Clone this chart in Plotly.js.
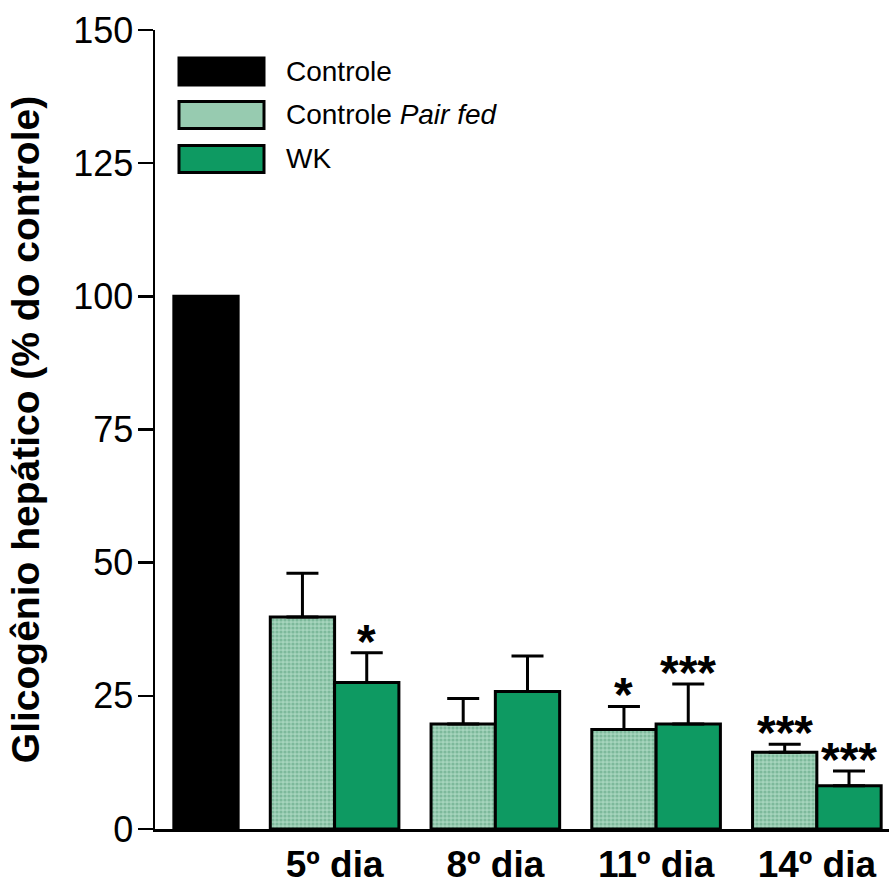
<!DOCTYPE html>
<html>
<head>
<meta charset="utf-8">
<script src="https://cdn.plot.ly/plotly-3.0.1.min.js"></script>
<style>html,body{margin:0;padding:0;background:#fff;}#chart{width:889px;height:885px;}</style>
</head>
<body>
<div id="chart"></div>
<script>
// ---- data ----
var days = ['5º dia', '8º dia', '11º dia', '14º dia'];
var controleValue = [100];
var pairFed = [39.8, 19.7, 18.7, 14.4];
var pairFedSE = [8.2, 4.8, 4.3, 1.5];
var wk = [27.5, 25.8, 19.7, 8.1];
var wkSE = [5.6, 6.7, 7.5, 2.8];
var pairFedSig = ['', '', '*', '***'];
var wkSig = ['*', '', '***', '***'];
var yTicks = [0, 25, 50, 75, 100, 125, 150];
var legendNames = ['Controle', 'Controle <i>Pair fed</i>', 'WK'];

// ---- layout helpers ----
var FONT = 'Liberation Sans, Arial, sans-serif';
var colBlack = '#000000', colPair = '#97cbb0', colWK = '#0e9a62';
// x positions: Controle at 0, groups spaced 2.5 bar widths
var groupCenter = days.map(function (d, i) { return 2 + 2.5 * i; });
var pairX = groupCenter.map(function (c) { return c - 0.5; });
var wkX = groupCenter.map(function (c) { return c + 0.5; });

var L = 155, R = 889, T = 29.5, B = 829;
function px(x) { return (x - L) / (R - L); }
function py(y) { return (B - y) / (B - T); }

var traces = [
  {
    type: 'bar', x: [0], y: controleValue, width: 1,
    marker: { color: colBlack, line: { color: '#000', width: 3 } },
    showlegend: false, hoverinfo: 'skip'
  },
  {
    type: 'bar', x: pairX, y: pairFed, width: 1,
    marker: {
      color: colPair, line: { color: '#000', width: 3 },
      pattern: { shape: '.', bgcolor: '#a6d5bd', fgcolor: '#7db99b', size: 4, solidity: 0.5 }
    },
    error_y: { type: 'data', array: pairFedSE, arrayminus: pairFedSE.map(function () { return 0; }), symmetric: false, color: '#000', thickness: 3, width: 16 },
    showlegend: false, hoverinfo: 'skip'
  },
  {
    type: 'bar', x: wkX, y: wk, width: 1,
    marker: { color: colWK, line: { color: '#000', width: 3 } },
    error_y: { type: 'data', array: wkSE, arrayminus: wkSE.map(function () { return 0; }), symmetric: false, color: '#000', thickness: 3, width: 16 },
    showlegend: false, hoverinfo: 'skip'
  }
];

var annotations = [];
function addSig(xs, vals, ses, sig) {
  for (var i = 0; i < xs.length; i++) {
    if (!sig[i]) continue;
    annotations.push({
      x: xs[i], y: vals[i] + ses[i], xref: 'x', yref: 'y',
      text: sig[i], showarrow: false, xanchor: 'center', yanchor: 'bottom',
      yshift: -17, font: { family: FONT, size: 48, color: '#000', weight: 'bold' }
    });
  }
}
addSig(pairX, pairFed, pairFedSE, pairFedSig);
addSig(wkX, wk, wkSE, wkSig);

// legend (drawn manually to match large swatches)
var legendColors = [colBlack, colPair, colWK];
var legendY = [71, 114.5, 158.5];
var shapes = [];
legendNames.forEach(function (name, i) {
  shapes.push({
    type: 'rect', xref: 'paper', yref: 'paper',
    x0: px(179), x1: px(264), y0: py(legendY[i] - 13.5), y1: py(legendY[i] + 13.5),
    fillcolor: legendColors[i], line: { color: '#000', width: 3 }
  });
  annotations.push({
    xref: 'paper', yref: 'paper', x: px(284), y: py(legendY[i]),
    text: name, showarrow: false, xanchor: 'left', yanchor: 'middle',
    font: { family: FONT, size: 28, color: '#000' }
  });
});

var layout = {
  width: 889, height: 885,
  margin: { l: L, r: 889 - R, t: T, b: 885 - B, pad: 0 },
  paper_bgcolor: '#fff', plot_bgcolor: '#fff',
  barmode: 'overlay',
  showlegend: false,
  font: { family: FONT, color: '#000' },
  xaxis: {
    range: [-0.793, 10.622], showgrid: false, zeroline: false,
    showline: true, linecolor: '#000', linewidth: 3,
    tickmode: 'array', tickvals: groupCenter, ticktext: days,
    ticks: '', tickfont: { family: FONT, size: 37, color: '#000', weight: 'bold' },
    ticklabelstandoff: 1
  },
  yaxis: {
    range: [0, 150], showgrid: false, zeroline: false,
    showline: true, linecolor: '#000', linewidth: 2.5,
    tickmode: 'array', tickvals: yTicks,
    ticks: 'outside', ticklen: 15, tickwidth: 2.5, tickcolor: '#000',
    tickfont: { family: FONT, size: 36, color: '#000' },
    ticklabelstandoff: -3,
    title: { text: 'Glicogênio hepático (% do controle)', font: { family: FONT, size: 39, color: '#000', weight: 'bold' }, standoff: 22 }
  },
  shapes: shapes,
  annotations: annotations
};

Plotly.newPlot('chart', traces, layout, { staticPlot: true, displayModeBar: false });
</script>
</body>
</html>
